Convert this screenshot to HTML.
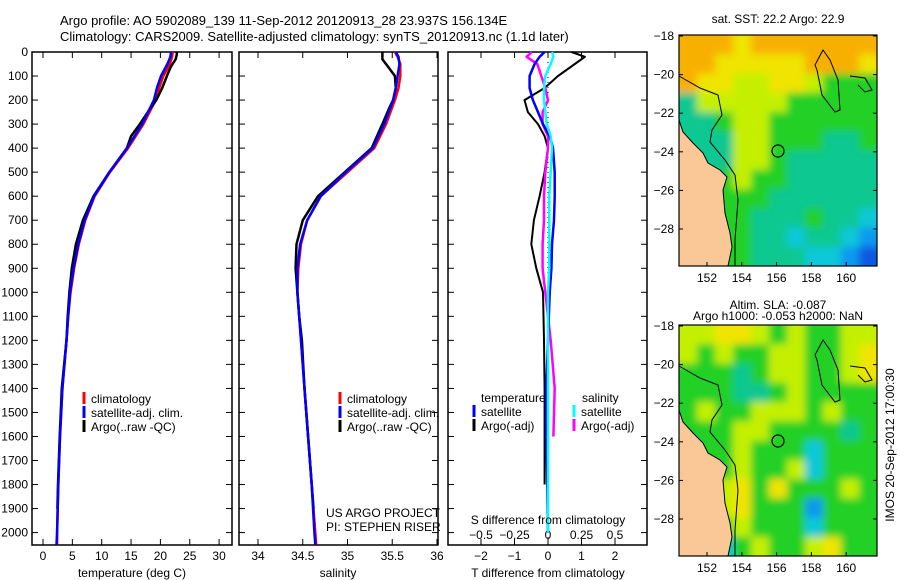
<!DOCTYPE html>
<html><head><meta charset="utf-8"><style>
body{margin:0;background:#fff;}
svg{display:block;font-family:"Liberation Sans",sans-serif;}
text{font-size:12px;fill:#000;}
</style></head><body>
<svg id="fig" width="900" height="580" viewBox="0 0 900 580" xmlns="http://www.w3.org/2000/svg">
<defs>
<filter id="blur" x="-10%" y="-10%" width="120%" height="120%"><feGaussianBlur stdDeviation="4"/></filter>
<clipPath id="clip1"><rect x="679" y="35" width="198" height="231"/></clipPath>
<clipPath id="clip2"><rect x="679" y="325" width="198" height="231"/></clipPath>
</defs>
<text x="60" y="25" style="font-size:13px">Argo profile: AO 5902089_139 11-Sep-2012 20120913_28 23.937S 156.134E</text>
<text x="60" y="41" style="font-size:13px">Climatology: CARS2009. Satellite-adjusted climatology: synTS_20120913.nc (1.1d later)</text>
<g id="maps"></g>
<g id="panels"></g>
</svg>
<script>
// ---- profile data ----
const depths = [0,20,50,100,150,200,300,400,500,600,700,800,900,1000,1100,1200,1400,1600,1800,2000,2050];
const tempClim = [22.1,22.0,21.6,20.5,19.8,19.2,17.1,14.5,11.4,8.8,7.2,6.1,5.3,4.7,4.3,4.0,3.3,2.9,2.6,2.4,2.4];
const tempSat  = [21.8,21.7,21.2,20.1,19.4,18.9,16.9,14.3,11.3,8.7,7.1,6.0,5.2,4.6,4.3,4.0,3.3,2.9,2.6,2.4,2.3];
const argoDepths = [0,10,30,60,100,150,200,230,300,350,400,500,600,700,800,900,1000,1100,1200,1400,1600,1800,1900];
const tempArgo = [22.8,22.8,22.6,21.8,21.1,20.3,19.3,18.4,16.5,15.0,14.3,11.3,8.6,6.8,5.6,4.9,4.5,4.2,4.0,3.2,2.85,2.55,2.45];
const salClim = [35.53,35.56,35.59,35.59,35.57,35.53,35.43,35.30,35.00,34.70,34.55,34.48,34.45,34.44,34.46,34.48,34.52,34.56,34.60,34.64,34.65];
const salSat  = [35.54,35.57,35.58,35.56,35.54,35.51,35.41,35.28,34.98,34.70,34.55,34.47,34.44,34.44,34.46,34.48,34.52,34.56,34.60,34.63,34.64];
const salArgo = [35.39,35.39,35.39,35.45,35.53,35.54,35.51,35.47,35.39,35.33,35.27,34.97,34.67,34.50,34.43,34.42,34.44,34.46,34.49,34.52,34.56,34.60,34.62];
// ---- difference data ----
const diffDepths = [0,20,50,100,150,200,250,300,350,400,500,600,700,800,900,1000,1200,1400,1600,1800,2000];
const dtSat  = [-0.1,-0.25,-0.4,-0.55,-0.55,-0.45,-0.3,-0.15,0.05,0.15,0.2,0.2,0.18,0.12,0.1,0.05,0.0,-0.05,-0.05,-0.02,0.0];
const dtArgo = [0.7,1.1,0.8,0.3,-0.1,-0.7,-0.6,-0.3,-0.1,0.0,-0.1,-0.25,-0.42,-0.5,-0.35,-0.15,-0.12,-0.1,-0.1,-0.1,null];
const dsSat  = [0.03,0.04,0.02,-0.02,-0.03,-0.03,-0.02,-0.01,0.02,0.03,0.02,0.01,0.01,0.01,0.01,0.0,0.0,0.0,0.0,0.0,0.0];
const dsArgo = [-0.12,-0.16,-0.08,-0.05,-0.02,0.0,-0.04,-0.04,0.0,0.0,-0.02,-0.03,-0.03,-0.04,-0.04,-0.02,0.02,0.05,0.04,null,null];
// ---- tick labels ----
const depthTicks = [0,100,200,300,400,500,600,700,800,900,1000,1100,1200,1300,1400,1500,1600,1700,1800,1900,2000];
const tempTicks = [0,5,10,15,20,25,30];
const salTicks = [34,34.5,35,35.5,36];
const dtTicks = [-2,-1,0,1,2];
const dsTicks = [-0.5,-0.25,0,0.25,0.5];
const dsTickLabels = ["\u22120.5","\u22120.25","0","0.25","0.5"];
const dtTickLabels = ["\u22122","\u22121","0","1","2"];
const lonTicks = [152,154,156,158,160];
const latTicks = [-18,-20,-22,-24,-26,-28];

const NS="http://www.w3.org/2000/svg";
const panels=document.getElementById('panels');
const mapsG=document.getElementById('maps');
function mk(tag,attrs,parent){const e=document.createElementNS(NS,tag);for(const k in attrs)e.setAttribute(k,attrs[k]);(parent||panels).appendChild(e);return e;}
function txt(x,y,s,anchor,parent){const t=mk('text',{x:x,y:y,'text-anchor':anchor||'start'},parent);t.textContent=s;return t;}

const TOP=52, BOT=545;
const yD=d=>TOP+d*0.2403;
const xT=t=>43+t*5.87;
const xS=s=>258+(s-34)*89.5;
const xDT=v=>548+v*33.5;
const xDS=v=>548+v*134;

function box(x0,x1,name){
  const r=mk('rect',{x:x0,y:TOP,width:x1-x0,height:BOT-TOP,fill:'none',stroke:'#000','stroke-width':1.5});
  
  
  depthTicks.forEach(d=>{
    mk('line',{x1:x0,x2:x0+6,y1:yD(d),y2:yD(d),stroke:'#000'});
    mk('line',{x1:x1-6,x2:x1,y1:yD(d),y2:yD(d),stroke:'#000'});
  });
}
function xticks(vals,fx,labels,ly){
  vals.forEach((v,i)=>{
    const x=fx(v);
    mk('line',{x1:x,x2:x,y1:TOP,y2:TOP+6,stroke:'#000'});
    mk('line',{x1:x,x2:x,y1:BOT-6,y2:BOT,stroke:'#000'});
    const t=txt(x,ly,labels?labels[i]:String(v),'middle');
    
    
  });
}
function line(ds,vals,fx,color,name,w){
  let pts=[];
  ds.forEach((d,i)=>{if(vals[i]!==null&&vals[i]!==undefined)pts.push(fx(vals[i]).toFixed(1)+','+yD(d).toFixed(1));});
  const p=mk('polyline',{points:pts.join(' '),fill:'none',stroke:color,'stroke-width':w||2.5,'stroke-linejoin':'round'});
  
  
}
function legend(x,y,color,label){
  mk('rect',{x:x-1.5,y:y-11,width:3,height:12,fill:color});
  const t=txt(x+7,y,label);
  
  
}

depthTicks.forEach(d=>{const t=txt(28,yD(d)+4,String(d),'end');
  
  });

// Panel 1 temperature
box(32,232,'temperature-panel');
xticks(tempTicks,xT,null,560);
line(depths,tempClim,xT,'#ff0000','temp-climatology-line');
line(argoDepths,tempArgo,xT,'#000000','temp-argo-line');
line(depths,tempSat,xT,'#0000ff','temp-satellite-line');
let t1=txt(132,577,'temperature (deg C)','middle');
legend(84,403,'#ff0000','climatology');legend(84,417,'#0000ff','satellite-adj. clim.');legend(84,431,'#000','Argo(..raw -QC)');

// Panel 2 salinity
box(239,438,'salinity-panel');
xticks(salTicks,xS,null,560);
line(depths,salClim,xS,'#ff0000','sal-climatology-line');
line(argoDepths,salArgo,xS,'#000000','sal-argo-line');
line(depths,salSat,xS,'#0000ff','sal-satellite-line');
let t2=txt(338,577,'salinity','middle');
legend(340,403,'#ff0000','climatology');legend(340,417,'#0000ff','satellite-adj. clim.');legend(340,431,'#000','Argo(..raw -QC)');
let u1=txt(326,517,'US ARGO PROJECT');
let u2=txt(326,531,'PI: STEPHEN RISER');

// Panel 3 differences
box(448,647,'difference-panel');
dtTicks.forEach((v,i)=>{const x=xDT(v);mk('line',{x1:x,x2:x,y1:TOP,y2:TOP+6,stroke:'#000'});mk('line',{x1:x,x2:x,y1:BOT-6,y2:BOT,stroke:'#000'});
  const t=txt(x,560,dtTickLabels[i],'middle');});
dsTicks.forEach((v,i)=>{const t=txt(xDS(v),539,dsTickLabels[i],'middle');});
mk('line',{x1:548,x2:548,y1:TOP,y2:BOT,stroke:'#000','stroke-dasharray':'1,4'});
line(diffDepths,dtArgo,xDT,'#000000','t-diff-argo-line',2);
line(diffDepths,dsArgo,xDS,'#ff00ff','s-diff-argo-line',2.5);
line(diffDepths,dtSat,xDT,'#0000ff','t-diff-satellite-line',2.5);
line(diffDepths,dsSat,xDS,'#00ffff','s-diff-satellite-line',2.5);
let h1=txt(481,402,'temperature');
let h2=txt(582,402,'salinity');
legend(474,416,'#0000ff','satellite');legend(474,430,'#000','Argo(-adj)');
legend(574,416,'#00ffff','satellite');legend(574,430,'#ff00ff','Argo(-adj)');
let s1=txt(548,524,'S difference from climatology','middle');
let s2=txt(548,577,'T difference from climatology','middle');

// ---- maps ----
const C={O:'#f8b000',Y:'#f0e400',L:'#c4f000',G:'#20d028',T:'#10c890',C:'#10c8d8',B:'#1098f0',D:'#1058e0'};
const sstGrid=["OOOYOOOOOOO","OOYYYYYOOOY","OYYLLYYLGGG","TLLLLLGGGGG","TTGLLGGGGGG","TTTLLGGGTTG","TTTLLGTTTTT","TTGLGGTTTTT","TTGGGTTTTTT","TTGGTTTGTTC","TTGGTTCTTCB","TTGGTTTCCBD"];
const slaGrid=["LLYYLGLGGLL","LGLGGLLGGLY","GGGTGLLGGLY","GGGTTGLGGGG","GLGGLLLGLGG","GGGLLGGGGTG","GGGLGGGCGGG","GGGLGGLCGGG","GGLYGYGGGLG","GGLYGGGBGGG","GGGLGGGCGGG","GGCGLGGLYGG"];
function drawMap(y0,grid,name,clip){
  const x0=679,w=198,h=231;
  const g=mk('g',{},mapsG);
  
  
  const cg=mk('g',{'clip-path':'url(#'+clip+')'},g);
  const fg=mk('g',{filter:'url(#blur)'},cg);
  const cw=w/11,ch=h/12,ex=14;
  grid.forEach((row,r)=>{[...row].forEach((c,k)=>{
    let x=x0+k*cw,y=y0+r*ch,ww=cw+0.5,hh=ch+0.5;
    if(k===0){x-=ex;ww+=ex;} if(k===10){ww+=ex;}
    if(r===0){y-=ex;hh+=ex;} if(r===11){hh+=ex;}
    mk('rect',{x:x,y:y,width:ww,height:hh,fill:C[c]},fg);});});
  const dy=y0-35;
  const land=[[679,120],[683,132],[693,143],[703,153],[708,163],[720,170],[727,177],[723,190],[725,213],[730,233],[732,247],[728,266],[679,266]];
  const lp=mk('polygon',{points:land.map(p=>p[0]+','+(p[1]+dy)).join(' '),fill:'#f9c896',stroke:'#000','stroke-width':1},g);
  
  
  const cont=[[679,76],[700,88],[718,95],[722,115],[712,130],[710,142],[725,160],[735,175],[738,200],[735,240],[735,266]];
  mk('polyline',{points:cont.map(p=>p[0]+','+(p[1]+dy)).join(' '),fill:'none',stroke:'#000','stroke-width':1},g);
  const isl=[[823,50],[830,60],[838,80],[840,110],[835,112],[822,95],[817,70],[815,65]];
  mk('polygon',{points:isl.map(p=>p[0]+','+(p[1]+dy)).join(' '),fill:'none',stroke:'#000','stroke-width':1},g);
  mk('polyline',{points:[[850,76],[865,78],[872,90],[865,92],[858,85]].map(p=>p[0]+','+(p[1]+dy)).join(' '),fill:'none',stroke:'#000'},g);
  mk('circle',{cx:778,cy:151+dy,r:6,fill:'none',stroke:'#000','stroke-width':1.2},g);
  mk('rect',{x:x0,y:y0,width:w,height:h,fill:'none',stroke:'#000','stroke-width':1.2},g);
  lonTicks.forEach(v=>{const x=707+(v-152)*17.4;mk('line',{x1:x,x2:x,y1:y0+h-4,y2:y0+h,stroke:'#000'},g);
    const t=txt(x,y0+h+16,String(v),'middle',g);});
  latTicks.forEach(v=>{const y=y0+1+(-18-v)*19.3;mk('line',{x1:x0,x2:x0+4,y1:y,y2:y,stroke:'#000'},g);mk('line',{x1:x0+w-4,x2:x0+w,y1:y,y2:y,stroke:'#000'},g);
    const t=txt(x0-5,y+4,String(v).replace('-','\u2212'),'end',g);});
}
drawMap(35,sstGrid,'sst-map','clip1');
drawMap(325,slaGrid,'sla-map','clip2');
const st=txt(778,23,'sat. SST: 22.2 Argo: 22.9','middle',mapsG);


const a1=txt(778,309,'Altim. SLA: -0.087','middle',mapsG);


const a2=txt(778,320,'Argo h1000: -0.053 h2000: NaN','middle',mapsG);


const ts=txt(0,0,'IMOS 20-Sep-2012 17:00:30','middle',mapsG);
ts.setAttribute('transform','translate(894,445) rotate(-90)');


</script>
</body></html>
